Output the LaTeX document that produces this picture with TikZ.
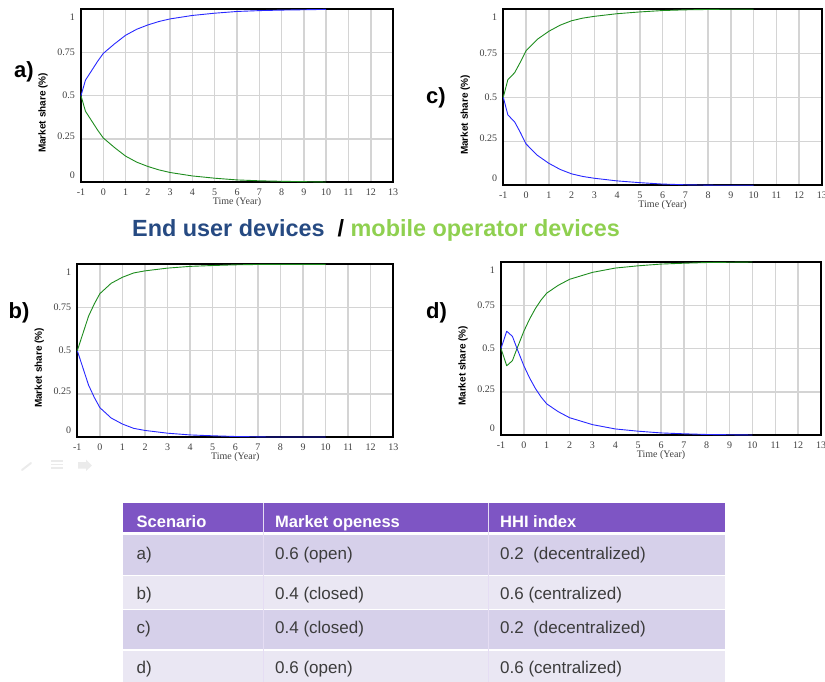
\documentclass[tikz,border=0pt]{standalone}
\usepackage{fontspec}
\setmainfont{Liberation Sans}
\newfontfamily\chartfont{Liberation Serif}
\usetikzlibrary{positioning}

\definecolor{gridgray}{RGB}{212,212,212}
\definecolor{curveblue}{RGB}{40,40,255}
\definecolor{curvegreen}{RGB}{30,140,30}
\definecolor{enduserblue}{RGB}{38,74,130}
\definecolor{mobilegreen}{RGB}{143,208,80}
\definecolor{headpurple}{RGB}{126,85,196}
\definecolor{rowdark}{RGB}{214,208,234}
\definecolor{rowlight}{RGB}{234,231,243}
\definecolor{celltext}{RGB}{60,60,60}

\tikzset{
  gridline/.style={gridgray, line width=1.5pt},
  chartframe/.style={draw=black, line width=1.8pt},
  ticklabel/.style={font=\chartfont\fontsize{10}{12}\selectfont, text=black!75, inner sep=0pt},
  axistitle/.style={font=\bfseries\fontsize{10}{12}\selectfont, rotate=90, inner sep=0pt},
  panellabel/.style={font=\bfseries\fontsize{22}{26}\selectfont, inner sep=0pt},
  bluecurve/.style={curveblue, line width=0.9pt, line join=round},
  greencurve/.style={curvegreen, line width=0.9pt, line join=round},
  headcell/.style={font=\bfseries\fontsize{16.5}{20}\selectfont, text=white, anchor=base west, inner sep=0pt},
  bodycell/.style={font=\fontsize{17}{20}\selectfont, text=celltext, anchor=base west, inner sep=0pt},
}

% grid, frame and axis texts of one chart, in years / share
\newcommand\marketgrid[1]{%
  \foreach \t in {0,...,12} \draw[gridline] (\t,0) -- (\t,1);
  \foreach \s in {0.25,0.5,0.75} \draw[gridline] (-1,\s) -- (13,\s);
  \draw[chartframe] (-1,0) rectangle (13,1);
  \foreach \t in {-1,...,13} \node[ticklabel] (#1x\t) at ([yshift=-10pt]\t,0) {\t};
  \foreach \s/\p in {1/0.955,0.75/0.75,0.5/0.5,0.25/0.265,0/0.04}
    \node[ticklabel, anchor=east] (#1y\s) at ([xshift=-6pt]-1,\p) {\s};
  \node[ticklabel] (#1time) at ([yshift=-20pt]6,0) {Time (Year)};
  \node[axistitle] (#1share) at ([xshift=-38pt]-1,0.4) {Market share (\%)};
}

\begin{document}
\begin{tikzpicture}[x=1pt,y=-1pt]
\useasboundingbox (0,0) rectangle (825,682);

% a) end user devices win
\begin{scope}[shift={(103.29,182)}, x=22.29pt, y=172.6pt]
  \marketgrid{a}
  \def\adata{-0.8/0.59,-0.5/0.65,-0.25/0.7,0/0.745,0.5/0.8,1/0.85,1.5/0.885,2/0.91,2.5/0.93,3/0.945,4/0.965,5/0.978,6/0.988,7/0.993,8/0.996,9/0.998,10/1}
  \draw[greencurve] (-1,0.5) \foreach \x/\y in \adata {-- (\x,{1-\y})};
  \draw[bluecurve] (-1,0.5) \foreach \x/\y in \adata {-- (\x,\y)};
\end{scope}

% b)
\begin{scope}[shift={(99.87,437)}, x=22.57pt, y=172.7pt]
  \marketgrid{b}
  \def\bdata{-0.75/0.6,-0.5/0.7,-0.25/0.77,0/0.83,0.5/0.89,1/0.925,1.5/0.95,2/0.962,3/0.978,4/0.988,5/0.993,6/0.997,7.5/1,10/1}
  \draw[bluecurve] (-1,0.5) \foreach \x/\y in \bdata {-- (\x,{1-\y})};
  \draw[greencurve] (-1,0.5) \foreach \x/\y in \bdata {-- (\x,\y)};
\end{scope}

% c)
\begin{scope}[shift={(526.06,185.3)}, x=22.76pt, y=176pt]
  \marketgrid{c}
  \def\cdata{-0.8/0.6,-0.5/0.64,-0.25/0.7,0/0.765,0.5/0.83,1/0.875,1.5/0.91,2/0.935,2.5/0.95,3/0.96,4/0.975,5/0.985,6/0.993,7/0.997,8.5/1,10/1}
  \draw[bluecurve] (-1,0.5) \foreach \x/\y in \cdata {-- (\x,{1-\y})};
  \draw[greencurve] (-1,0.5) \foreach \x/\y in \cdata {-- (\x,\y)};
\end{scope}

% d)
\begin{scope}[shift={(523.86,435)}, x=22.86pt, y=173pt]
  \marketgrid{d}
  \def\ddata{-0.75/0.6,-0.5/0.57,-0.3/0.5,0/0.4,0.25/0.33,0.5/0.27,0.75/0.22,1/0.18,1.5/0.135,2/0.1,2.5/0.08,3/0.06,4/0.035,5/0.022,6/0.012,7/0.007,8/0.003,10/0}
  \draw[greencurve] (-1,0.5) \foreach \x/\y in \ddata {-- (\x,{1-\y})};
  \draw[bluecurve] (-1,0.5) \foreach \x/\y in \ddata {-- (\x,\y)};
\end{scope}

\node[panellabel] (labela) at (24,71.5) {a)};
\node[panellabel] (labelb) at (19,312.5) {b)};
\node[panellabel] (labelc) at (436,97.5) {c)};
\node[panellabel] (labeld) at (436.5,313) {d)};

\node[anchor=base west, inner sep=0pt, font=\bfseries\fontsize{23.4}{28}\selectfont] (legend) at (132,236.5)
  {\textcolor{enduserblue}{End user devices}~~/ \textcolor{mobilegreen}{mobile operator devices}};

% faint slide controls
\draw[black!8, line width=2pt, line cap=round] (22,470) -- (31,463);
\foreach \yy in {461,464.5,468} \draw[black!8, line width=1.5pt] (51,\yy) -- (63,\yy);
\fill[black!8] (78,462) -- (86,462) -- (86,459.5) -- (92,465.5) -- (86,471) -- (86,468.5) -- (78,468.5) -- cycle;

% table
\fill[headpurple] (123.3,503.3) rectangle (725,533.3);
\fill[rowdark] (123.3,533.3) rectangle (725,575.7);
\fill[rowlight] (123.3,575.7) rectangle (725,609.3);
\fill[rowdark] (123.3,609.3) rectangle (725,650);
\fill[rowlight] (123.3,650) rectangle (725,682);
\draw[white, line width=3pt] (123.3,533.3) -- (725,533.3);
\foreach \yy in {575.7,609.3,650} \draw[white, line width=1.5pt] (123.3,\yy) -- (725,\yy);
\foreach \xx in {263.3,488.3} \draw[white!80!headpurple, line width=1.5pt] (\xx,503.3) -- (\xx,682);

\node[headcell] (hscen) at (136.5,527) {Scenario};
\node[headcell] (hopen) at (275,527) {Market openess};
\node[headcell] (hhhi) at (500,527) {HHI index};

\node[bodycell] (sa) at (136.5,559) {a)};
\node[bodycell] (oa) at (275,559) {0.6 (open)};
\node[bodycell] (ha) at (500,559) {0.2~~(decentralized)};
\node[bodycell] (sb) at (136.5,599) {b)};
\node[bodycell] (ob) at (275,599) {0.4 (closed)};
\node[bodycell] (hb) at (500,599) {0.6 (centralized)};
\node[bodycell] (sc) at (136.5,633) {c)};
\node[bodycell] (oc) at (275,633) {0.4 (closed)};
\node[bodycell] (hc) at (500,633) {0.2~~(decentralized)};
\node[bodycell] (sd) at (136.5,673) {d)};
\node[bodycell] (od) at (275,673) {0.6 (open)};
\node[bodycell] (hd) at (500,673) {0.6 (centralized)};
\end{tikzpicture}
\end{document}
